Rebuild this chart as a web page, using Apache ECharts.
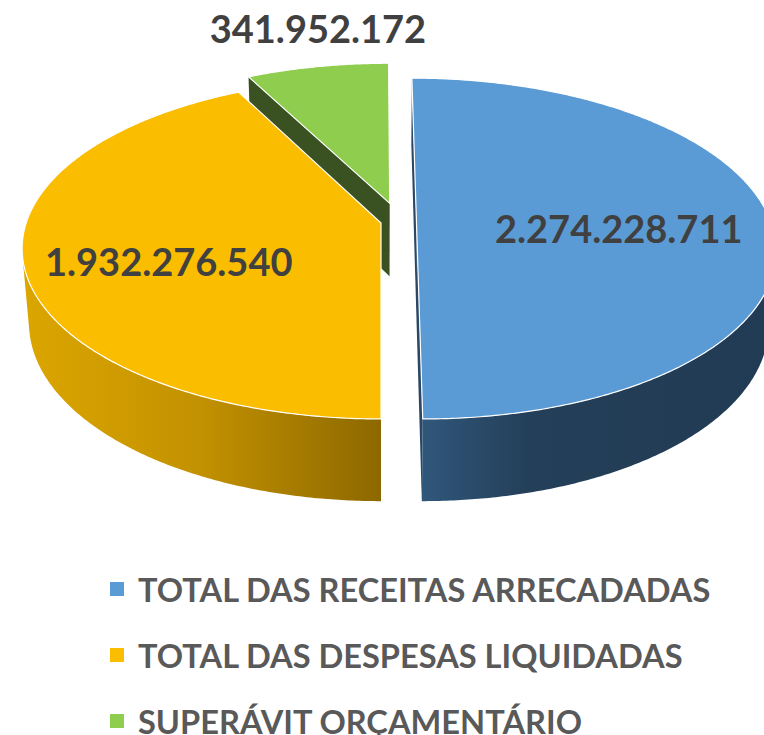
<!DOCTYPE html>
<html>
<head>
<meta charset="utf-8">
<script src="https://cdn.jsdelivr.net/npm/echarts@6/dist/echarts.min.js"></script>
<style>
  html, body { margin: 0; padding: 0; background: #fff; }
  #chart { width: 764px; height: 735px; }
</style>
</head>
<body>
<div id="chart"></div>
<script>
// data
const categories = ['TOTAL DAS RECEITAS ARRECADADAS', 'TOTAL DAS DESPESAS LIQUIDADAS', 'SUPERÁVIT ORÇAMENTÁRIO'];
const values = [2274228711, 1932276540, 341952172];

// look
const topColors = ['#5B9BD5', '#FABD00', '#8FCD4F'];
const wallStops = [
  [{ offset: 0, color: '#30577B' }, { offset: 0.3, color: '#243F59' }, { offset: 1, color: '#223B54' }],
  [{ offset: 0, color: '#DCA600' }, { offset: 0.5, color: '#C29100' }, { offset: 1, color: '#8C6800' }],
  [{ offset: 0, color: '#3B5323' }, { offset: 1, color: '#3B5323' }]
];
const faceColors = ['#2A4866', '#A07800', '#3A5222'];
// explode offset per slice, in radius units (u = right, v = towards viewer)
const explode = [[0.1, 0], [0, 0], [0.025, -0.12]];
// label: radius along bisector, pixel nudge x, y
const labelPos = [[0.57, 0, 5], [0.63, 10, 13], [1.3, 19, -4]];

// simple perspective camera looking down on the pie
const view = { cx: 381, cy: 223, f: 2090, dist: 5.89, tilt: 28 * Math.PI / 180, depth: 0.24 };

const total = values.reduce((a, b) => a + b, 0);
const startAngles = [];
let acc = 0;
values.forEach(v => { startAngles.push(acc / total * 2 * Math.PI); acc += v; });

function fmt(n) {
  return String(n).replace(/\B(?=(\d{3})+(?!\d))/g, '.');
}

function project(u, v, h) {
  const c = Math.cos(view.tilt), s = Math.sin(view.tilt);
  const Z = view.dist - v * c - h * s;
  const Y = -v * s + h * c;
  return [view.cx + view.f * u / Z, view.cy - view.f * Y / Z];
}

function facesCamera(pu, pv, ph, nu, nv, nh) {
  const cu = 0, cv = view.dist * Math.cos(view.tilt), ch = view.dist * Math.sin(view.tilt);
  return (cu - pu) * nu + (cv - pv) * nv + (ch - ph) * nh > 0;
}

function renderSlice(i, params, api) {
  const sweep = api.value(0) / total * 2 * Math.PI;
  const a0 = startAngles[i], a1 = a0 + sweep;
  const ou = explode[i][0], ov = explode[i][1];
  const d = view.depth;
  const rim = (t, h) => project(ou + Math.sin(t), ov - Math.cos(t), h);
  const steps = Math.max(8, Math.ceil(sweep / (Math.PI / 360)));
  const children = [];

  // radial cut faces
  [[a0, -1], [a1, 1]].forEach(([t, sgn]) => {
    const nu = sgn * Math.cos(t), nv = sgn * Math.sin(t);
    if (facesCamera(ou, ov, 0, nu, nv, 0)) {
      children.push({
        type: 'polygon',
        shape: { points: [project(ou, ov, 0), rim(t, 0), rim(t, -d), project(ou, ov, -d)] },
        style: { fill: faceColors[i] }
      });
    }
  });

  // outer wall, only the part that faces the camera
  const runs = [];
  let run = [];
  for (let k = 0; k <= steps; k++) {
    const t = a0 + sweep * k / steps;
    if (facesCamera(ou + Math.sin(t), ov - Math.cos(t), 0, Math.sin(t), -Math.cos(t), 0)) {
      run.push(t);
    } else if (run.length) {
      runs.push(run);
      run = [];
    }
  }
  if (run.length) runs.push(run);
  runs.forEach(r => {
    if (r.length < 2) return;
    const pts = r.map(t => rim(t, 0)).concat(r.slice().reverse().map(t => rim(t, -d)));
    children.push({
      type: 'polygon',
      shape: { points: pts },
      style: { fill: new echarts.graphic.LinearGradient(0, 0, 1, 0, wallStops[i]) }
    });
  });

  // top face
  const topPts = [project(ou, ov, 0)];
  for (let k = 0; k <= steps; k++) topPts.push(rim(a0 + sweep * k / steps, 0));
  children.push({
    type: 'polygon',
    shape: { points: topPts },
    style: { fill: topColors[i], stroke: '#ffffff', lineWidth: 1.2, lineJoin: 'round' }
  });

  // value label
  const mid = a0 + sweep / 2;
  const lp = project(ou + labelPos[i][0] * Math.sin(mid), ov - labelPos[i][0] * Math.cos(mid), 0);
  children.push({
    type: 'text',
    x: lp[0] + labelPos[i][1],
    y: lp[1] + labelPos[i][2],
    style: {
      text: fmt(api.value(0)),
      fill: '#404040',
      font: 'bold 38px Lato',
      align: 'center',
      verticalAlign: 'middle'
    }
  });

  return { type: 'group', children: children };
}

// draw farther slices first
const depthOrder = values.map((v, i) => {
  const mid = startAngles[i] + v / total * Math.PI;
  return explode[i][1] - 0.5 * Math.cos(mid);
});

const series = categories.map((name, i) => ({
  name: name,
  type: 'custom',
  coordinateSystem: 'none',
  z: 2 + depthOrder.filter(x => x < depthOrder[i]).length,
  itemStyle: { color: topColors[i] },
  silent: true,
  renderItem: (params, api) => renderSlice(i, params, api),
  data: [[values[i]]]
}));

const chart = echarts.init(document.getElementById('chart'), null, { renderer: 'svg' });
chart.setOption({
  animation: false,
  legend: {
    data: categories,
    orient: 'vertical',
    left: 110,
    top: 571,
    height: 240,
    padding: 0,
    icon: 'rect',
    itemWidth: 14,
    itemHeight: 14,
    itemGap: 30,
    selectedMode: false,
    textStyle: {
      fontFamily: 'Lato',
      fontWeight: 'bold',
      fontSize: 32.6,
      lineHeight: 36,
      color: '#595959',
      padding: [0, 0, 0, 9]
    }
  },
  series: series
});
</script>
</body>
</html>
